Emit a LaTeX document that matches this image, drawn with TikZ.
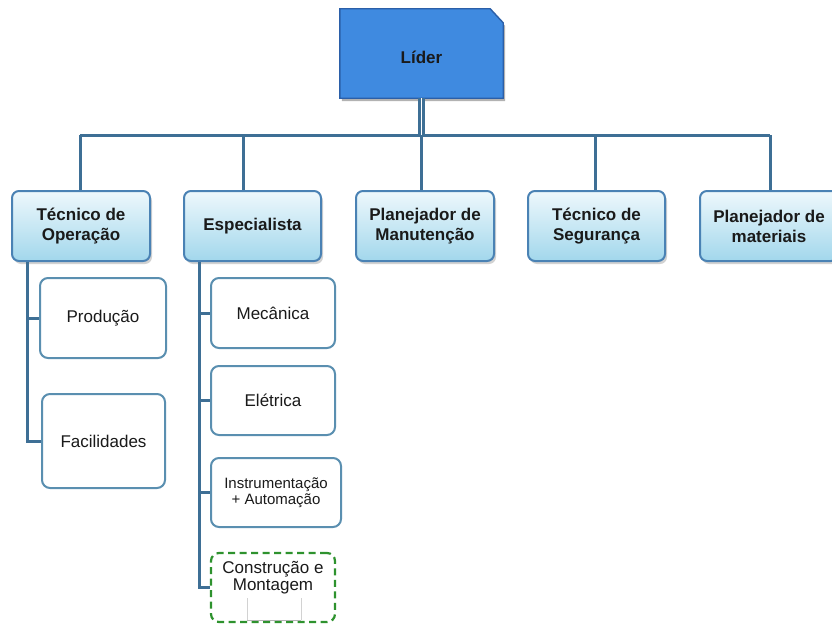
\documentclass[tikz,border=0pt]{standalone}
\usepackage{fontspec}
\setmainfont{Liberation Sans}
\usetikzlibrary{shadows}
\definecolor{linec}{HTML}{3E6F95}
\definecolor{leadfill}{HTML}{3F8AE0}
\definecolor{leaddraw}{HTML}{2B5FA8}
\definecolor{topdraw}{HTML}{4A82B4}
\definecolor{topbot}{HTML}{A2D7EC}
\definecolor{topup}{HTML}{EEF8FC}
\definecolor{subdraw}{HTML}{5A8FB0}
\definecolor{dashgreen}{HTML}{2E922E}
\definecolor{txt}{HTML}{1A1A1A}
\tikzset{
  topbox/.style={draw=topdraw, line width=2pt, rounded corners=7pt,
    top color=topup, bottom color=topbot, align=center, text=txt,
    font=\fontsize{17}{20}\selectfont\bfseries,
    drop shadow={opacity=0.35, shadow xshift=2pt, shadow yshift=-3pt}},
  subbox/.style={draw=subdraw, line width=2pt, rounded corners=8pt,
    fill=white, align=center, text=txt,
    font=\fontsize{17}{19}\selectfont},
  conn/.style={draw=linec, line width=3pt},
}
\begin{document}
\begin{tikzpicture}[x=1pt, y=-1pt]
\useasboundingbox[fill=white] (0,0) rectangle (832,626);

% leader box with clipped corner
\node[minimum width=163pt, minimum height=89pt, inner sep=0pt] (lead) at (421.5,53.5) {};
\fill[black, opacity=0.3] ([xshift=2pt,yshift=-3pt]lead.south west) -- ([xshift=2pt,yshift=-3pt]lead.north west)
  -- ([xshift=-11pt,yshift=-3pt]lead.north east) -- ([xshift=2pt,yshift=-17pt]lead.north east)
  -- ([xshift=2pt,yshift=-3pt]lead.south east) -- cycle;
\draw[fill=leadfill, draw=leaddraw, line width=1.4pt] (lead.south west) -- (lead.north west)
  -- ([xshift=-13pt]lead.north east) -- ([yshift=-14pt]lead.north east) -- (lead.south east) -- cycle;
\node[font=\fontsize{17}{20}\selectfont\bfseries, text=txt] (leadtxt) at ([yshift=-4pt]lead.center) {Líder};

% second level
\node[topbox, minimum width=138pt, minimum height=70pt] (op) at (81,226) {Técnico de\\Operação};
\node[topbox, minimum width=137pt, minimum height=70pt] (esp) at (252.5,226) {Especialista};
\node[topbox, minimum width=138pt, minimum height=70pt] (pman) at (425,226) {Planejador de\\Manutenção};
\node[topbox, minimum width=137pt, minimum height=70pt] (seg) at (596.5,226) {Técnico de\\Segurança};
\node[topbox, minimum width=138pt, minimum height=70pt] (pmat) at (769,226) {Planejador de\\materiais};

% bus
\coordinate (busL) at (80,135);
\coordinate (busR) at (770,135);
\draw[conn] (busL) -- (busR);
\draw[draw=linec, line width=3.4pt, double=white, double distance=1pt] (lead.south) -- (lead.south |- busL);
\draw[conn] (busL) -- ([xshift=-1pt]op.north);
\draw[conn] (busL -| 243,0) -- ([xshift=-9.5pt]esp.north);
\draw[conn] (busL -| 421,0) -- ([xshift=-4pt]pman.north);
\draw[conn] (busL -| 595,0) -- ([xshift=-1.5pt]seg.north);
\draw[conn] (busR) -- ([xshift=1pt]pmat.north);

% third level under operação
\node[subbox, minimum width=126pt, minimum height=80pt] (prod) at (103,318) {Produção};
\node[subbox, minimum width=123pt, minimum height=94pt] (fac) at (103.5,441) {Facilidades};
\draw[conn] ([xshift=-54pt]op.south) |- (prod.west);
\draw[conn] ([xshift=-54pt]op.south) |- (fac.west);

% third level under especialista
\node[subbox, minimum width=124pt, minimum height=70pt] (mec) at (273,313) {Mecânica};
\node[subbox, minimum width=124pt, minimum height=69pt] (ele) at (273,400.5) {Elétrica};
\node[subbox, minimum width=130pt, minimum height=69pt, font=\fontsize{15}{16}\selectfont] (ins) at (276,492.5) {Instrumentação\\+ Automação};
\node[subbox, draw=dashgreen, line width=2.2pt, dash pattern=on 7pt off 4.5pt, minimum width=124pt, minimum height=69pt] (con) at (273,587.5) {};
\node[align=center, text=txt, font=\fontsize{17}{17}\selectfont] (contxt) at (273,578) {Construção e\\Montagem};
\draw[draw=gray!35, line width=0.8pt] (247,598) -- (247,620) (301,598) -- (301,620);
\draw[draw=gray!60, line width=1pt] (247,620) -- (301,620);
\draw[conn] ([xshift=-53.5pt]esp.south) |- (mec.west);
\draw[conn] ([xshift=-53.5pt]esp.south) |- (ele.west);
\draw[conn] ([xshift=-53.5pt]esp.south) |- (ins.west);
\draw[conn] ([xshift=-53.5pt]esp.south) |- (con.west);
\end{tikzpicture}
\end{document}
